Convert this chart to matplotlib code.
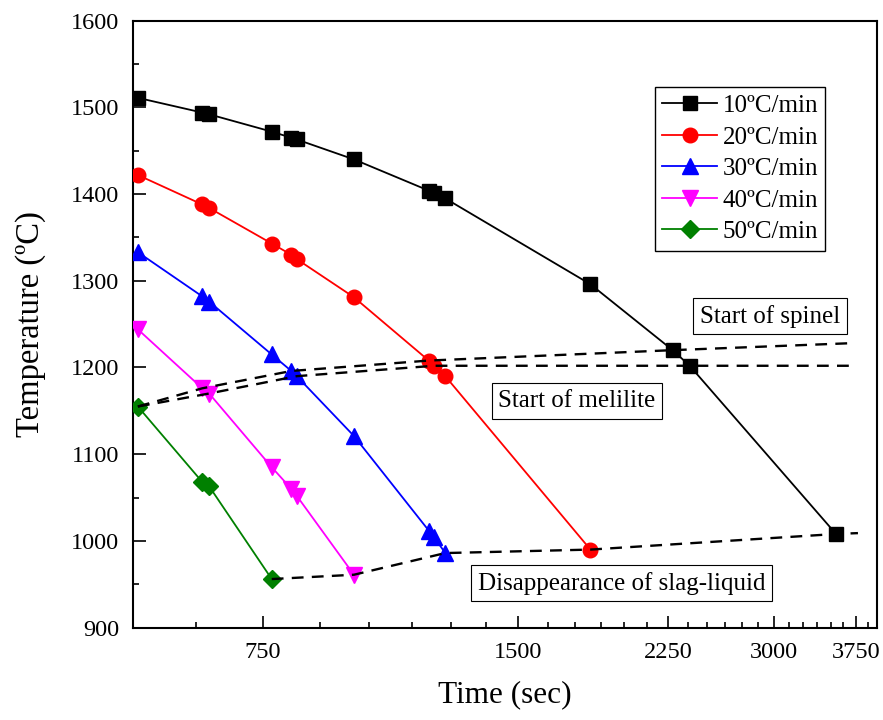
import matplotlib
matplotlib.use("Agg")
import matplotlib.pyplot as plt
from matplotlib.ticker import FixedLocator, FixedFormatter, NullFormatter

plt.rcParams['font.family'] = ['Liberation Serif', 'DejaVu Serif']

# shared sampling times (sec)
timeSec = [534, 636, 648, 768, 810, 822, 960, 1176, 1194, 1230, 1824, 2280, 2388, 3552]

temp10 = [1511, 1494, 1492, 1472, 1465, 1463, 1440, 1404, 1401, 1395, 1296, 1220, 1202, 1008]
temp20 = [1422, 1388, 1384, 1343, 1330, 1325, 1281, 1208, 1202, 1190, 990]
temp30 = [1333, 1282, 1276, 1215, 1196, 1190, 1121, 1012, 1004, 986]
temp40 = [1244, 1176, 1170, 1085, 1060, 1052, 961]
temp50 = [1155, 1068, 1063, 956]

rateLabels = ['10ºC/min', '20ºC/min', '30ºC/min', '40ºC/min', '50ºC/min']
rateColors = ['black', '#ff0000', '#0000ff', '#ff00ff', '#008000']
rateMarkers = ['s', 'o', '^', 'v', 'D']
markerSizes = [9.5, 10.5, 11, 11, 9.5]

# phase boundary lines
spinelTime = [534, 636, 810, 1176, 2280, 3690]
spinelTemp = [1155, 1176, 1196, 1208, 1220, 1228]
meliliteTime = [534, 648, 822, 1194, 2388, 3720]
meliliteTemp = [1155, 1170, 1190, 1202, 1202, 1202]
slagTime = [768, 960, 1230, 1824, 3552, 3770]
slagTemp = [956, 961, 986, 990, 1008, 1009]

xMajor = [750, 1500, 2250, 3000, 3750]
xMinor = [625, 875, 1000, 1125, 1250, 1375, 1625, 1750, 1875, 2000, 2125,
          2375, 2500, 2625, 2750, 2875, 3125, 3250, 3375, 3500, 3625, 3875]

fig = plt.figure(figsize=(8.83, 7.2), dpi=100)
ax = fig.add_axes([0.1506, 0.1283, 0.8426, 0.843])

allTemps = [temp10, temp20, temp30, temp40, temp50]
for temps, label, color, marker, ms in zip(allTemps, rateLabels, rateColors, rateMarkers, markerSizes):
    ax.plot(timeSec[:len(temps)], temps, color=color, marker=marker, markersize=ms,
            linewidth=1.3, label=label, zorder=3)

dashStyle = dict(color='black', linewidth=1.7, dashes=(5, 3.5), zorder=4)
ax.plot(spinelTime, spinelTemp, **dashStyle)
ax.plot(meliliteTime, meliliteTemp, **dashStyle)
ax.plot(slagTime, slagTemp, **dashStyle)

boxStyle = dict(boxstyle='square,pad=0.27', facecolor='white', edgecolor='black', linewidth=0.8)
ax.text(0.856, 0.5133, 'Start of spinel', transform=ax.transAxes, fontsize=18,
        ha='center', va='center', bbox=boxStyle, zorder=5)
ax.text(0.5968, 0.3733, 'Start of melilite', transform=ax.transAxes, fontsize=18,
        ha='center', va='center', bbox=boxStyle, zorder=5)
ax.text(0.6565, 0.0735, 'Disappearance of slag-liquid', transform=ax.transAxes, fontsize=18,
        ha='center', va='center', bbox=boxStyle, zorder=5)

ax.set_xscale('log')
ax.set_xlim(527, 3970)
ax.set_ylim(900, 1600)
ax.xaxis.set_major_locator(FixedLocator(xMajor))
ax.xaxis.set_major_formatter(FixedFormatter([str(v) for v in xMajor]))
ax.xaxis.set_minor_locator(FixedLocator(xMinor))
ax.xaxis.set_minor_formatter(NullFormatter())
ax.yaxis.set_major_locator(FixedLocator(range(900, 1601, 100)))
ax.yaxis.set_minor_locator(FixedLocator(range(950, 1600, 100)))

ax.tick_params(which='both', direction='in', width=1.2, labelsize=17.5, top=False, right=False)
ax.tick_params(which='major', length=9, pad=10)
ax.tick_params(which='minor', length=4.5)
for spine in ax.spines.values():
    spine.set_linewidth(1.5)

ax.set_xlabel('Time (sec)', fontsize=22.5, labelpad=13)
ax.set_ylabel('Temperature (ºC)', fontsize=23.5, labelpad=18)

leg = ax.legend(loc='upper left', bbox_to_anchor=(0.7016, 0.8906), borderaxespad=0,
                fontsize=18, handlelength=2.2, labelspacing=0.36, handletextpad=0.2,
                fancybox=False, edgecolor='black', framealpha=1, borderpad=0.3)
leg.get_frame().set_linewidth(1.0)

fig.savefig('out.png', dpi=100)
